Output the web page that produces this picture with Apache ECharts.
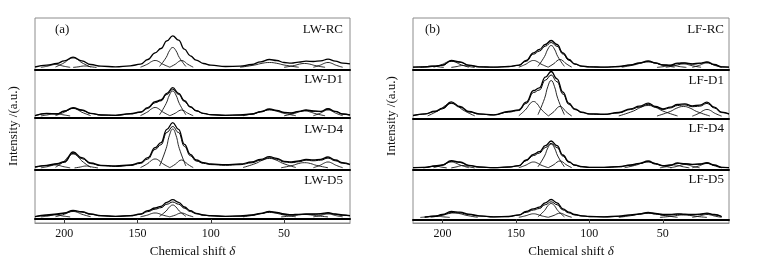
<!DOCTYPE html>
<html><head><meta charset="utf-8">
<script src="https://cdn.jsdelivr.net/npm/echarts@6/dist/echarts.min.js"></script>
<style>html,body{margin:0;padding:0;background:#fff}#c{width:759px;height:266px}</style>
</head><body><div id="c"></div>
<script>
// ---------- data ----------
const shift = [220,212,205,200,194,188,182,175,165,155,148,143,138,134,130,126,122,118,114,110,105,100,90,80,72,66,60,55,50,45,40,35,30,25,20,15,10,5];
const tickLabels = [200,150,100,50];
const panelNames = ['LW-RC','LW-D1','LW-D4','LW-D5','LF-RC','LF-D1','LF-D4','LF-D5'];
const panelTags = ['(a)','(b)'];
const xTitle = 'Chemical shift';
const yTitle = 'Intensity /(a.u.)';

const LW_RC_total = [0.5,2.3,4,6.7,10.3,6.7,3,1.3,0.7,1.7,3.3,8,14.7,19,26.7,31.7,27.3,18.3,11.7,7.3,4,2.3,1,1.3,3,5.7,8,7,5,4.3,5.3,6.3,6,6.7,8.3,6.3,4.3,3.7];
const LW_D1_total = [0.3,2.7,2,5,8.3,6,2.7,1,0.7,2.3,4,8.3,14.3,16,22.7,28.3,22.7,15.3,9.3,5.3,2.7,1.3,0.7,1,2,4.3,7,5.7,3.7,3,4.7,6,5,4.7,7.3,4.7,2,1];
const LW_D1_fit = [0.3,2.3,2,4.6,7.8,5.6,2.5,1,0.7,2,3.6,7.6,13.3,15.2,21.5,26.8,21.6,14.5,8.8,5,2.5,1.2,0.7,1,1.8,4,6.5,5.3,3.5,2.8,4.4,5.6,4.7,4.4,6.8,4.4,1.9,1];
const LW_D4_total = [1,2.7,4.3,6.3,16,10.3,5,2.7,2,3,5.3,10.3,20.3,25.3,38.7,45.3,38.7,23.7,13.7,8,5.3,4,3.3,4,6,8.7,11.3,9.7,6.7,6,7,8.7,8,8.7,11,8,5.3,3.7];
const LW_D4_fit = [0.8,2.3,3.8,5.6,14.7,9.4,4.4,2.3,1.6,2.5,4.6,9,18.6,23.3,35.6,41.5,35.5,21.6,12.3,7,4.6,3.4,2.7,3.3,5.2,7.8,10.3,8.8,6,5.3,6.2,7.8,7.2,7.8,9.9,7.2,4.7,3.2];
const LW_D5_total = [0.3,2,3,4,6.7,5.3,3,1.3,0.7,1.3,3,6.3,9,10.7,14.7,17.3,14.7,10,6.3,3.7,2,1.3,0.7,1,2,3.7,5.7,4.7,3,2.3,2.7,3,3,3.3,4.3,3,2,1.3];
const LW_D5_fit = [0.3,1.7,2.6,3.6,6,4.8,2.7,1.2,0.6,1.1,2.6,5.4,7.8,9.3,12.8,15,12.8,8.7,5.5,3.2,1.8,1.1,0.6,0.9,1.8,3.3,5.1,4.2,2.7,2,2.4,2.7,2.7,2.9,3.8,2.7,1.8,1.2];
const LF_RC_total = [0.3,0.7,1.3,2.3,7,5.7,2.3,0.7,0.3,1,2.3,7,14.7,18,23,27,23,14.7,8,3.7,1.3,0.7,0.3,1,2.7,4.7,6.7,4.7,2.7,2.3,4.3,4.7,3.7,4.3,5.7,3,0.7,0.3];
const LF_RC_fit = [0.3,0.6,1.2,2.1,6.4,5.2,2.1,0.6,0.3,0.9,2.1,6.3,13.3,16.4,21.3,25,21.2,13.5,7.3,3.3,1.2,0.6,0.3,0.9,2.4,4.3,6.1,4.3,2.4,2.1,3.9,4.3,3.4,3.9,5.2,2.7,0.6,0.3];
const LF_D1_total = [1,2.7,5.3,8.3,14.7,10,5,2.7,1.7,5,6.7,14.3,26,28.7,39.3,45,37.7,24.3,13.3,7.7,4.3,2.7,2.3,4,7.7,10.3,13.3,10,7.7,9.3,12,12.7,10.7,11.3,14.3,9.3,4.3,2.7];
const LF_D1_fit = [0.9,2.4,4.8,7.6,13.5,9.2,4.6,2.4,1.5,4.4,6,13,24,26.5,36.3,41.5,34.8,22.4,12.2,7,3.9,2.4,2,3.6,7,9.4,12.2,9.2,7,8.5,11,11.6,9.8,10.3,13.1,8.5,3.9,2.4];
const LF_D4_total = [0.3,0.7,2,3,7.3,6,2.7,1,0.3,1,2.3,8,13.7,16.3,22.3,27,22.3,13,6.3,3,1.3,0.7,0.7,1.3,3,4.7,7,4.3,2.3,3,5,4.3,3.7,4,5.3,3,0.7,0.3];
const LF_D4_fit = [0.3,0.6,1.8,2.7,6.7,5.5,2.5,0.9,0.3,0.9,2.1,7.3,12.5,14.9,20.4,24.7,20.4,11.9,5.8,2.7,1.2,0.6,0.6,1.2,2.7,4.3,6.4,3.9,2.1,2.7,4.6,3.9,3.4,3.7,4.8,2.7,0.6,0.3];
const LF_D5_total = ['-',0.3,1.3,3,6,5.3,3.3,1.7,0.7,1,2.7,6,8.7,10.3,14.7,18,14.7,8.7,5.3,3,1.7,1,0.7,1.3,2.7,3.7,5,4,3,3,3.7,3.3,3,3.3,4.3,3,1,'-'];
const LF_D5_fit = ['-',0.3,1.1,2.6,5,4.6,2.9,1.5,0.6,0.9,2.3,5.2,7.5,9,12.8,15.7,12.8,7.6,4.6,2.6,1.5,0.9,0.6,1.1,2.4,3.2,4.4,3.5,2.6,2.6,3.2,2.9,2.6,2.9,3.8,2.6,0.9,'-'];

const LW_RC_peaks = [
 [[216,0.15],[211,1.5],[208.5,2.5],[206,3],[203.5,2.5],[201,1.5],[196,0.15]],
 [[206,0.5],[200,4.8],[197,8],[194,9.5],[191,8],[188,4.8],[182,0.5]],
 [[194,0.1],[190,0.75],[188,1.3],[186,1.5],[184,1.3],[182,0.75],[178,0.1]],
 [[148,0.35],[143,3.5],[140.5,5.9],[138,7],[135.5,5.9],[133,3.5],[128,0.35]],
 [[135,1],[130.5,10],[128.2,16.8],[126,20],[123.8,16.8],[121.5,10],[117,1]],
 [[128,0.35],[124,3.5],[122,5.9],[120,7],[118,5.9],[116,3.5],[112,0.35]],
 [[80,0.25],[70,2.5],[65,4.2],[60,5],[55,4.2],[50,2.5],[40,0.25]],
 [[50,0.2],[43,2],[39.5,3.4],[36,4],[32.5,3.4],[29,2],[22,0.2]],
 [[30,0.25],[25,2.5],[22.5,4.2],[20,5],[17.5,4.2],[15,2.5],[10,0.25]]
];
const LW_D1_peaks = [
 [[216,0.1],[211,1.25],[208.5,2.1],[206,2.5],[203.5,2.1],[201,1.25],[196,0.1]],
 [[206,0.4],[200,3.75],[197,6.3],[194,7.5],[191,6.3],[188,3.75],[182,0.4]],
 [[148,0.4],[143,4.25],[140.5,7.1],[138,8.5],[135.5,7.1],[133,4.25],[128,0.4]],
 [[135,1.2],[130.5,12.5],[128.2,21],[126,25],[123.8,21],[121.5,12.5],[117,1.2]],
 [[128,0.3],[124,3],[122,5],[120,6],[118,5],[116,3],[112,0.3]],
 [[78,0.3],[69,3],[64.5,5],[60,6],[55.5,5],[51,3],[42,0.3]],
 [[50,0.25],[43,2.5],[39.5,4.2],[36,5],[32.5,4.2],[29,2.5],[22,0.25]],
 [[30,0.3],[25,3],[22.5,5],[20,6],[17.5,5],[15,3],[10,0.3]]
];
const LW_D4_peaks = [
 [[216,0.15],[211,1.5],[208.5,2.5],[206,3],[203.5,2.5],[201,1.5],[196,0.15]],
 [[206,0.7],[200,7],[197,11.8],[194,14],[191,11.8],[188,7],[182,0.7]],
 [[193,0.1],[189,1],[187,1.7],[185,2],[183,1.7],[181,1],[177,0.1]],
 [[148,0.45],[143,4.5],[140.5,7.6],[138,9],[135.5,7.6],[133,4.5],[128,0.45]],
 [[135,2],[130.5,19.5],[128.2,32.8],[126,39],[123.8,32.8],[121.5,19.5],[117,2]],
 [[128,0.4],[124,4],[122,6.7],[120,8],[118,6.7],[116,4],[112,0.4]],
 [[78,0.5],[69,4.75],[64.5,8],[60,9.5],[55.5,8],[51,4.75],[42,0.5]],
 [[52,0.25],[44,2.65],[40,4.5],[36,5.3],[32,4.5],[28,2.65],[20,0.25]],
 [[30,0.3],[25,3],[22.5,5],[20,6],[17.5,5],[15,3],[10,0.3]]
];
const LW_D5_peaks = [
 [[216,0.1],[211,1],[208.5,1.7],[206,2],[203.5,1.7],[201,1],[196,0.1]],
 [[206,0.3],[200,2.75],[197,4.6],[194,5.5],[191,4.6],[188,2.75],[182,0.3]],
 [[148,0.2],[143,2],[140.5,3.4],[138,4],[135.5,3.4],[133,2],[128,0.2]],
 [[135,0.6],[130.5,6],[128.2,10],[126,12],[123.8,10],[121.5,6],[117,0.6]],
 [[128,0.2],[124,2],[122,3.4],[120,4],[118,3.4],[116,2],[112,0.2]],
 [[78,0.2],[69,2.25],[64.5,3.8],[60,4.5],[55.5,3.8],[51,2.25],[42,0.2]],
 [[52,0.1],[44,1.25],[40,2.1],[36,2.5],[32,2.1],[28,1.25],[20,0.1]],
 [[30,0.15],[25,1.5],[22.5,2.5],[20,3],[17.5,2.5],[15,1.5],[10,0.15]]
];
const LF_RC_peaks = [
 [[215,0.1],[211,0.75],[209,1.3],[207,1.5],[205,1.3],[203,0.75],[199,0.1]],
 [[206,0.3],[200,3.15],[197,5.3],[194,6.3],[191,5.3],[188,3.15],[182,0.3]],
 [[194,0.1],[190,1],[188,1.7],[186,2],[184,1.7],[182,1],[178,0.1]],
 [[148,0.35],[143,3.5],[140.5,5.9],[138,7],[135.5,5.9],[133,3.5],[128,0.35]],
 [[135,1.1],[130.5,11],[128.2,18.5],[126,22],[123.8,18.5],[121.5,11],[117,1.1]],
 [[128,0.4],[124,4],[122,6.7],[120,8],[118,6.7],[116,4],[112,0.4]],
 [[78,0.3],[69,2.75],[64.5,4.6],[60,5.5],[55.5,4.6],[51,2.75],[42,0.3]],
 [[54,0.1],[49,1],[46.5,1.7],[44,2],[41.5,1.7],[39,1],[34,0.1]],
 [[48,0.2],[42,1.75],[39,2.9],[36,3.5],[33,2.9],[30,1.75],[24,0.2]],
 [[30,0.2],[25,2.25],[22.5,3.8],[20,4.5],[17.5,3.8],[15,2.25],[10,0.2]]
];
const LF_D1_peaks = [
 [[210,0.65],[202,6.5],[198,10.9],[194,13],[190,10.9],[186,6.5],[178,0.65]],
 [[148,0.75],[143,7.5],[140.5,12.6],[138,15],[135.5,12.6],[133,7.5],[128,0.75]],
 [[135,1.8],[130.5,18],[128.2,30.2],[126,36],[123.8,30.2],[121.5,18],[117,1.8]],
 [[128,0.5],[124,5],[122,8.4],[120,10],[118,8.4],[116,5],[112,0.5]],
 [[80,0.55],[70,5.5],[65,9.2],[60,11],[55,9.2],[50,5.5],[40,0.55]],
 [[54,0.5],[45,5],[40.5,8.4],[36,10],[31.5,8.4],[27,5],[18,0.5]],
 [[30,0.35],[25,3.5],[22.5,5.9],[20,7],[17.5,5.9],[15,3.5],[10,0.35]]
];
const LF_D4_peaks = [
 [[213,0.1],[209,1],[207,1.7],[205,2],[203,1.7],[201,1],[197,0.1]],
 [[206,0.3],[200,3],[197,5],[194,6],[191,5],[188,3],[182,0.3]],
 [[194,0.1],[190,1.25],[188,2.1],[186,2.5],[184,2.1],[182,1.25],[178,0.1]],
 [[148,0.3],[143,3],[140.5,5],[138,6],[135.5,5],[133,3],[128,0.3]],
 [[135,1.2],[130.5,12],[128.2,20.2],[126,24],[123.8,20.2],[121.5,12],[117,1.2]],
 [[128,0.35],[124,3.5],[122,5.9],[120,7],[118,5.9],[116,3.5],[112,0.35]],
 [[76,0.3],[68,3],[64,5],[60,6],[56,5],[52,3],[44,0.3]],
 [[52,0.15],[47,1.5],[44.5,2.5],[42,3],[39.5,2.5],[37,1.5],[32,0.15]],
 [[45,0.2],[40,1.75],[37.5,2.9],[35,3.5],[32.5,2.9],[30,1.75],[25,0.2]],
 [[30,0.2],[25,2.25],[22.5,3.8],[20,4.5],[17.5,3.8],[15,2.25],[10,0.2]]
];
const LF_D5_peaks = [
 [[215,0.1],[210,0.75],[207.5,1.3],[205,1.5],[202.5,1.3],[200,0.75],[195,0.1]],
 [[208,0.2],[200,2.25],[196,3.8],[192,4.5],[188,3.8],[184,2.25],[176,0.2]],
 [[148,0.2],[143,1.85],[140.5,3.1],[138,3.7],[135.5,3.1],[133,1.85],[128,0.2]],
 [[135,0.7],[130.5,7],[128.2,11.8],[126,14],[123.8,11.8],[121.5,7],[117,0.7]],
 [[128,0.2],[124,2.15],[122,3.6],[120,4.3],[118,3.6],[116,2.15],[112,0.2]],
 [[80,0.2],[70,2.25],[65,3.8],[60,4.5],[55,3.8],[50,2.25],[40,0.2]],
 [[52,0.1],[44,1.25],[40,2.1],[36,2.5],[32,2.1],[28,1.25],[20,0.1]],
 [[30,0.15],[25,1.5],[22.5,2.5],[20,3],[17.5,2.5],[15,1.5],[10,0.15]]
];

const totals = [LW_RC_total, LW_D1_total, LW_D4_total, LW_D5_total, LF_RC_total, LF_D1_total, LF_D4_total, LF_D5_total];
const fits = [null, LW_D1_fit, LW_D4_fit, LW_D5_fit, LF_RC_fit, LF_D1_fit, LF_D4_fit, LF_D5_fit];
const peaks = [LW_RC_peaks, LW_D1_peaks, LW_D4_peaks, LW_D5_peaks, LF_RC_peaks, LF_D1_peaks, LF_D4_peaks, LF_D5_peaks];

// ---------- layout ----------
const FONT = '"Liberation Serif","Times New Roman",serif';
const panelLeft = [35, 413];
const panelWidth = [315, 316];
const frameTop = 18, frameHeight = 205;
const subBottoms = [[69.5, 118, 170, 219], [69.5, 118.5, 170, 219.5]];
const subH = 50;
const labelY = [[31, 81, 131, 182], [31, 82, 130, 181]];
const labelRight = [343, 724];

const chart = echarts.init(document.getElementById('c'), null, {renderer: 'canvas'});
const grids = [], xAxes = [], yAxes = [], series = [], graphics = [];

for (let p = 0; p < 2; p++) {
  const fi = grids.length;
  grids.push({left: panelLeft[p], top: frameTop, width: panelWidth[p], height: frameHeight,
    show: true, borderColor: '#8c8c8c', borderWidth: 1, backgroundColor: 'transparent'});
  xAxes.push({gridIndex: fi, type: 'value', inverse: true, min: 5, max: 220,
    axisLine: {show: true, lineStyle: {color: '#8c8c8c', width: 1}},
    axisTick: {show: true, inside: true, length: 4, lineStyle: {color: '#333'}, customValues: tickLabels},
    axisLabel: {show: true, customValues: tickLabels, color: '#111', fontFamily: FONT, fontSize: 12, margin: 5},
    splitLine: {show: false},
    name: '{n|' + xTitle + ' }{d|δ}', nameLocation: 'middle', nameGap: 21,
    nameTextStyle: {fontFamily: FONT, fontSize: 13, color: '#111',
      rich: {n: {fontFamily: FONT, fontSize: 13, color: '#111'},
             d: {fontFamily: FONT, fontSize: 13, color: '#111', fontStyle: 'italic'}}}});
  yAxes.push({gridIndex: fi, type: 'value', min: 0, max: 1, show: false});
  series.push({type: 'line', xAxisIndex: fi, yAxisIndex: fi, data: [], silent: true});
  for (let s = 0; s < 4; s++) {
    const idx = p * 4 + s;
    const gi = grids.length;
    const bottom = subBottoms[p][s];
    grids.push({left: panelLeft[p], top: bottom - subH, width: panelWidth[p], height: subH});
    xAxes.push({gridIndex: gi, type: 'value', inverse: true, min: 5, max: 220,
      axisLine: {show: true, onZero: false, lineStyle: {color: '#000', width: 2}},
      axisTick: {show: false}, axisLabel: {show: false}, splitLine: {show: false}});
    yAxes.push({gridIndex: gi, type: 'value', min: -2, max: 48, show: false});
    const common = {type: 'line', xAxisIndex: gi, yAxisIndex: gi, symbol: 'none', silent: true,
      clip: false, animation: false, z: 3};
    peaks[idx].forEach(pk => {
      series.push(Object.assign({}, common, {smooth: 0.5, data: pk,
        lineStyle: {color: '#111', width: 0.9}}));
    });
    if (fits[idx]) {
      series.push(Object.assign({}, common, {smooth: 0.45, smoothMonotone: 'x',
        data: shift.map((x, k) => [x, fits[idx][k]]),
        lineStyle: {color: '#000', width: 1}}));
    }
    series.push(Object.assign({}, common, {smooth: 0.45, smoothMonotone: 'x',
      data: shift.map((x, k) => [x, totals[idx][k]]),
      lineStyle: {color: '#000', width: 1.3}}));
    graphics.push({type: 'text', right: 759 - labelRight[p], top: labelY[p][s] - 8,
      style: {text: panelNames[idx], font: '13px ' + FONT, fill: '#111'}});
  }
  graphics.push({type: 'text', left: p === 0 ? 55 : 425, top: 23,
    style: {text: panelTags[p], font: '13px ' + FONT, fill: '#111'}});
}
graphics.push({type: 'text', x: 14, y: 126, rotation: Math.PI / 2,
  style: {text: yTitle, font: '13px ' + FONT, fill: '#111', align: 'center', verticalAlign: 'middle'}});
graphics.push({type: 'text', x: 392, y: 116, rotation: Math.PI / 2,
  style: {text: yTitle, font: '13px ' + FONT, fill: '#111', align: 'center', verticalAlign: 'middle'}});

chart.setOption({animation: false, backgroundColor: '#fff',
  grid: grids, xAxis: xAxes, yAxis: yAxes, series: series, graphic: graphics});
</script></body></html>
